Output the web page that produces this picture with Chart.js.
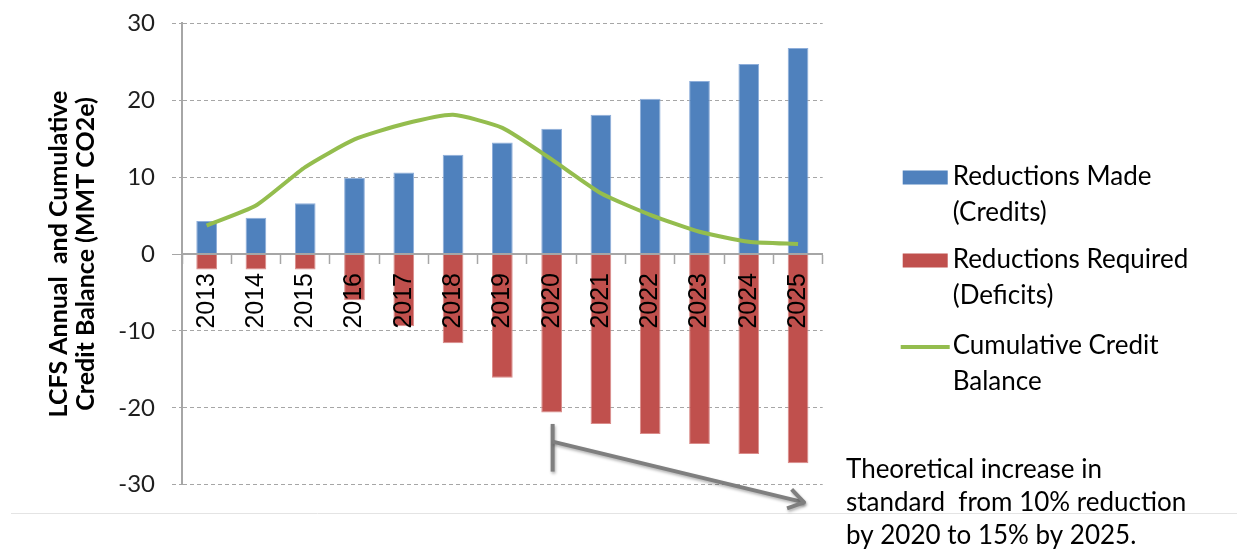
<!DOCTYPE html>
<html>
<head>
<meta charset="utf-8">
<title>LCFS Annual and Cumulative Credit Balance</title>
<script src="https://cdn.jsdelivr.net/npm/chart.js@4.4.1/dist/chart.umd.min.js"></script>
<style>
  html, body { margin: 0; padding: 0; background: #ffffff; }
  canvas { display: block; }
</style>
</head>
<body>
<canvas id="lcfs" width="1237" height="552"></canvas>
<script>
// Compliance years on the category axis
const years = ['2013', '2014', '2015', '2016', '2017', '2018', '2019',
               '2020', '2021', '2022', '2023', '2024', '2025'];

// Annual credits generated (MMT CO2e)
const creditsMade = [4.3, 4.7, 6.6, 9.9, 10.6, 12.9, 14.5, 16.3, 18.1, 20.2, 22.5, 24.7, 26.8];

// Annual deficits incurred (MMT CO2e, negative)
const deficitsRequired = [-2.0, -2.0, -2.0, -6.0, -9.4, -11.6, -16.1, -20.6, -22.1, -23.4, -24.7, -26.0, -27.2];

// Running bank of credits carried forward (MMT CO2e)
const cumulativeBalance = [3.7, 6.3, 11.3, 14.9, 16.9, 18.1, 16.4, 12.3, 7.9, 5.1, 2.9, 1.6, 1.3];

// Value axis ticks
const yTicks = [-30, -20, -10, 0, 10, 20, 30];

// Text blocks
const axisTitle = ['LCFS Annual  and Cumulative', 'Credit Balance (MMT CO2e)'];
const seriesNames = [
  ['Reductions Made', '(Credits)'],
  ['Reductions Required', '(Deficits)'],
  ['Cumulative Credit', 'Balance']
];
const noteLines = ['Theoretical increase in', 'standard  from 10% reduction', 'by 2020 to 15% by 2025.'];

const BLUE = '#4F81BD';
const RED = '#C0504D';
const GREEN = '#94BD4E';
const AXIS_GREY = '#A6A6A6';
const FONT = 'Lato, "Open Sans", sans-serif';

// Light frame edge along the bottom of the chart box
const framePlugin = {
  id: 'frame',
  beforeDraw(chart) {
    const { ctx } = chart;
    ctx.save();
    ctx.strokeStyle = '#E4E4E4';
    ctx.lineWidth = 1;
    ctx.beginPath();
    ctx.moveTo(11, 513.5);
    ctx.lineTo(chart.width, 513.5);
    ctx.stroke();
    ctx.restore();
  }
};

// Legend to the right of the plot, with two-line entries
const sideLegend = {
  id: 'sideLegend',
  afterDraw(chart) {
    const { ctx, chartArea } = chart;
    const x0 = chartArea.right + 80;
    const swatchW = 45;
    const textX = x0 + swatchW + 5;
    const firstLineY = [177, 260, 346];
    const lineGap = 36;
    ctx.save();
    ctx.font = '26px ' + FONT;
    ctx.textBaseline = 'middle';
    ctx.textAlign = 'left';
    chart.data.datasets.forEach((ds, i) => {
      const y = firstLineY[i];
      if (ds.type === 'line') {
        ctx.strokeStyle = ds.borderColor;
        ctx.lineWidth = 4;
        ctx.beginPath();
        ctx.moveTo(x0 - 2, y + 1);
        ctx.lineTo(x0 + swatchW + 2, y + 1);
        ctx.stroke();
      } else {
        ctx.fillStyle = ds.backgroundColor;
        ctx.fillRect(x0, y - 6.5, swatchW, 14);
      }
      ctx.fillStyle = '#000000';
      seriesNames[i].forEach((line, k) => ctx.fillText(line, textX, y + k * lineGap));
    });
    ctx.restore();
  }
};

// Note and arrow showing the steeper standard after 2020
const notePlugin = {
  id: 'note',
  afterDraw(chart) {
    const { ctx } = chart;
    const xs = chart.scales.x;
    const ys = chart.scales.y;
    const startX = xs.getPixelForValue(years.indexOf('2020')) + 1;
    const endX = xs.getPixelForValue(years.indexOf('2025')) + 6;
    const barTop = ys.getPixelForValue(-22.1);
    const barBottom = ys.getPixelForValue(-28.3);
    const shaftY = ys.getPixelForValue(-24.4);
    const tipY = ys.getPixelForValue(-32.3);

    ctx.save();
    ctx.strokeStyle = '#7F7F7F';
    ctx.lineWidth = 4;
    ctx.lineCap = 'butt';
    ctx.shadowColor = 'rgba(0,0,0,0.3)';
    ctx.shadowBlur = 3;
    ctx.shadowOffsetX = 1;
    ctx.shadowOffsetY = 2;

    ctx.beginPath();
    ctx.moveTo(startX, barTop);
    ctx.lineTo(startX, barBottom);
    ctx.stroke();

    ctx.beginPath();
    ctx.moveTo(startX, shaftY);
    ctx.lineTo(endX, tipY);
    ctx.stroke();

    const ang = Math.atan2(tipY - shaftY, endX - startX);
    const armLen = 18;
    const spread = Math.PI / 5.5;
    ctx.lineJoin = 'round';
    ctx.beginPath();
    ctx.moveTo(endX - armLen * Math.cos(ang - spread), tipY - armLen * Math.sin(ang - spread));
    ctx.lineTo(endX, tipY);
    ctx.lineTo(endX - armLen * Math.cos(ang + spread), tipY - armLen * Math.sin(ang + spread));
    ctx.stroke();
    ctx.restore();

    ctx.save();
    ctx.font = '26px ' + FONT;
    ctx.fillStyle = '#000000';
    ctx.textAlign = 'left';
    ctx.textBaseline = 'alphabetic';
    noteLines.forEach((line, k) => ctx.fillText(line, 846, 478 + k * 33));
    ctx.restore();
  }
};

function build() {
  new Chart(document.getElementById('lcfs'), {
    data: {
      labels: years,
      datasets: [
        {
          type: 'bar',
          label: seriesNames[0].join(' '),
          data: creditsMade,
          backgroundColor: BLUE,
          borderColor: '#8EAEDA',
          borderWidth: 1,
          order: 2
        },
        {
          type: 'bar',
          label: seriesNames[1].join(' '),
          data: deficitsRequired,
          backgroundColor: RED,
          borderColor: '#DA8C8A',
          borderWidth: 1,
          order: 3
        },
        {
          type: 'line',
          label: seriesNames[2].join(' '),
          data: cumulativeBalance,
          borderColor: GREEN,
          backgroundColor: GREEN,
          borderWidth: 4,
          pointRadius: 0,
          tension: 0.18,
          fill: false,
          order: 1
        }
      ]
    },
    options: {
      responsive: false,
      animation: false,
      devicePixelRatio: 1,
      datasets: {
        bar: { grouped: false, categoryPercentage: 1, barPercentage: 0.42 }
      },
      layout: { padding: { left: 0, top: 23.3, right: 414.3, bottom: 67.3 } },
      plugins: {
        legend: { display: false },
        tooltip: { enabled: false }
      },
      scales: {
        x: {
          type: 'category',
          position: { y: 0 },
          offset: true,
          afterFit(scale) { scale.height = 0; },
          grid: {
            display: true,
            offset: true,
            drawOnChartArea: false,
            drawTicks: true,
            tickLength: 9,
            tickColor: AXIS_GREY,
            tickWidth: 1.5
          },
          border: { display: true, color: AXIS_GREY, width: 2, z: 1 },
          ticks: {
            z: 2,
            minRotation: 90,
            maxRotation: 90,
            autoSkip: false,
            padding: 10,
            color: '#000000',
            font: { family: '"Liberation Sans", Arial, sans-serif', size: 25 }
          }
        },
        y: {
          type: 'linear',
          position: 'left',
          min: -30,
          max: 30,
          afterBuildTicks(scale) { scale.ticks = yTicks.map(v => ({ value: v })); },
          afterFit(scale) {
            scale.width = 182;
            scale.paddingTop = 0;
            scale.paddingBottom = 0;
          },
          grid: {
            color: AXIS_GREY,
            lineWidth: 1,
            drawTicks: true,
            tickLength: 10,
            tickColor: AXIS_GREY,
            tickBorderDash: (c) => (c.tick && c.tick.value === 0 ? [] : [4, 3])
          },
          border: { display: true, color: AXIS_GREY, width: 2, dash: [4, 3] },
          ticks: {
            padding: 17,
            color: '#1E1E1E',
            font: { family: FONT, size: 24 }
          },
          title: {
            display: true,
            text: axisTitle,
            color: '#000000',
            padding: { top: 45, bottom: 0 },
            font: { family: FONT, size: 25, weight: 'bold', lineHeight: 1.1 }
          }
        }
      }
    },
    plugins: [framePlugin, sideLegend, notePlugin]
  });
}

const fontLoads = ['24px Lato', 'bold 25px Lato', '26px Lato', '25px "Liberation Sans"']
  .map(f => (document.fonts ? document.fonts.load(f) : Promise.resolve()));
Promise.all(fontLoads).then(build, build);
</script>
</body>
</html>
